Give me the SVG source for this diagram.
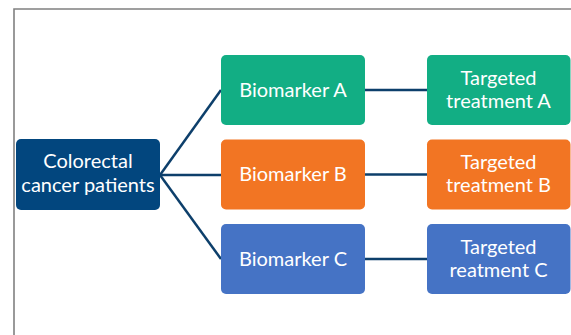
<svg xmlns="http://www.w3.org/2000/svg" width="571" height="335" viewBox="0 0 571 335">
<style>
.box{stroke:none}
.t{font-family:Lato,"Liberation Sans",sans-serif;font-size:20px;fill:#fff;text-anchor:middle}
.c{stroke:#0D3F6B;stroke-width:2.5;fill:none}
</style>
<rect width="571" height="335" fill="#fff"/>
<path d="M14 335 V9 H571" fill="none" stroke="#808080" stroke-width="1.6"/>
<g id="connectors">
<line class="c" x1="160" y1="175" x2="221" y2="90"/>
<line class="c" x1="160" y1="175" x2="221" y2="175"/>
<line class="c" x1="160" y1="175" x2="221" y2="259"/>
<line class="c" x1="365" y1="90" x2="427" y2="90"/>
<line class="c" x1="365" y1="174.5" x2="427" y2="174.5"/>
<line class="c" x1="365" y1="259" x2="427" y2="259"/>
</g>
<g id="patients">
<rect class="box" x="16" y="139" width="144" height="71" rx="5" fill="#02467E"/>
<text class="t" x="88" y="168">Colorectal</text>
<text class="t" x="88" y="191.5">cancer patients</text>
</g>
<g id="biomarkerA">
<rect class="box" x="221" y="55" width="144" height="70" rx="5" fill="#12AE84"/>
<text class="t" x="293" y="96.5">Biomarker A</text>
</g>
<g id="biomarkerB">
<rect class="box" x="221" y="139.5" width="144" height="70" rx="5" fill="#F27523"/>
<text class="t" x="293" y="181">Biomarker B</text>
</g>
<g id="biomarkerC">
<rect class="box" x="221" y="224" width="144" height="70" rx="5" fill="#4573C5"/>
<text class="t" x="293" y="265.5">Biomarker C</text>
</g>
<g id="treatmentA">
<rect class="box" x="427" y="55" width="143.5" height="70" rx="5" fill="#12AE84"/>
<text class="t" x="498.5" y="84.5">Targeted</text>
<text class="t" x="498.5" y="107.5">treatment A</text>
</g>
<g id="treatmentB">
<rect class="box" x="427" y="139.5" width="143.5" height="70" rx="5" fill="#F27523"/>
<text class="t" x="498.5" y="169">Targeted</text>
<text class="t" x="498.5" y="192">treatment B</text>
</g>
<g id="treatmentC">
<rect class="box" x="427" y="224" width="143.5" height="70" rx="5" fill="#4573C5"/>
<text class="t" x="498.5" y="253.5">Targeted</text>
<text class="t" x="498.5" y="276.5">reatment C</text>
</g>
</svg>
